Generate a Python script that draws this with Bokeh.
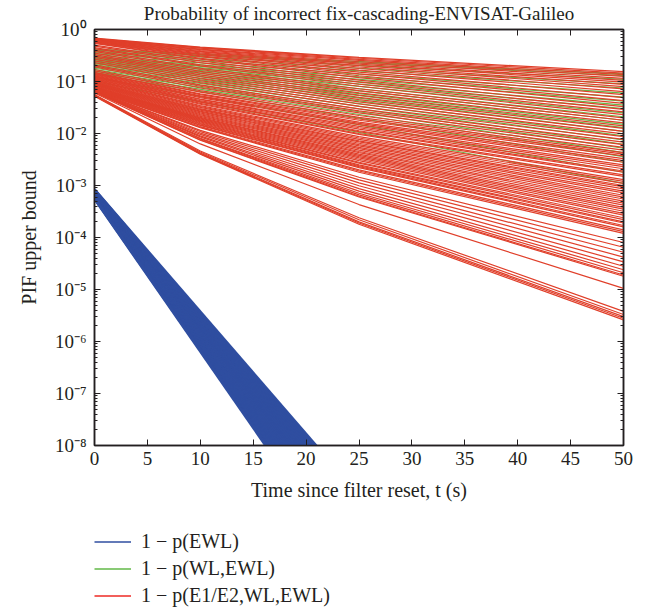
from bokeh.plotting import figure
from bokeh.layouts import column
from bokeh.models import (LinearAxis, LogAxis, Range1d, FixedTicker, CustomJSTickFormatter,
                          CustomLabelingPolicy, Legend, LegendItem)
from bokeh.embed import file_html
from bokeh.resources import INLINE

# ---------------- data ----------------
title_text = "Probability of incorrect fix-cascading-ENVISAT-Galileo"
x_ticks = [0, 5, 10, 15, 20, 25, 30, 35, 40, 45, 50]
y_exponents = [-8, -7, -6, -5, -4, -3, -2, -1, 0]
legend_labels = ["1 \u2212 p(EWL)", "1 \u2212 p(WL,EWL)", "1 \u2212 p(E1/E2,WL,EWL)"]

# 1 - p(EWL): values at t = 0 and t = 25 s
blue_t = [0, 25]
blue_t0 = [8.3e-4, 8.2e-4, 8.0e-4, 7.9e-4, 7.7e-4, 7.6e-4, 7.4e-4, 7.3e-4, 7.2e-4, 7.0e-4,
           6.9e-4, 6.8e-4, 6.7e-4, 6.6e-4, 6.5e-4, 6.4e-4, 6.3e-4, 6.2e-4, 6.1e-4, 6.0e-4,
           5.9e-4, 5.8e-4, 5.7e-4, 5.6e-4]
blue_t25 = [1.1e-9, 9.2e-10, 7.8e-10, 6.6e-10, 5.6e-10, 4.7e-10, 4.0e-10, 3.4e-10, 2.9e-10, 2.4e-10,
            2.0e-10, 1.7e-10, 1.45e-10, 1.2e-10, 1.0e-10, 8.7e-11, 7.4e-11, 6.2e-11, 5.3e-11, 4.5e-11,
            3.8e-11, 3.2e-11, 2.9e-11, 2.6e-11]

# 1 - p(WL,EWL): values at t = 0 and t = 50 s
green_t = [0, 50]
green_t0 = [0.42, 0.40, 0.38, 0.36, 0.34, 0.32, 0.30, 0.29, 0.28, 0.27,
            0.26, 0.25, 0.24, 0.23, 0.22, 0.21, 0.20, 0.19, 0.18, 0.17,
            0.16, 0.15, 0.14, 0.12, 0.10]
green_t50 = [0.14, 0.13, 0.11, 0.09, 0.075, 0.06, 0.05, 0.042, 0.035, 0.03,
             0.025, 0.021, 0.018, 0.015, 0.013, 0.011, 0.009, 0.0075, 0.0062, 0.0052,
             0.0043, 0.0036, 0.0028, 0.0018, 0.0011]

# 1 - p(E1/E2,WL,EWL): values at t = 0, 10, 25 and 50 s
red_t = [0, 10, 25, 50]
red_t0 = [0.68, 0.67, 0.66, 0.65, 0.64, 0.63, 0.62, 0.61, 0.60, 0.59, 0.58, 0.57, 0.56, 0.55, 0.54,
          0.50, 0.48, 0.45, 0.43, 0.40, 0.38, 0.35, 0.33, 0.31, 0.29, 0.27, 0.25, 0.23, 0.21,
          0.20, 0.19, 0.17, 0.16,
          0.150, 0.146, 0.142, 0.138, 0.134, 0.130, 0.127, 0.124, 0.121, 0.118,
          0.115, 0.112, 0.109, 0.106, 0.103, 0.100, 0.098, 0.096, 0.094, 0.092,
          0.090, 0.088, 0.086, 0.084, 0.082, 0.080, 0.079, 0.078, 0.077, 0.076,
          0.075, 0.074, 0.073, 0.072, 0.071, 0.070, 0.069, 0.068, 0.067, 0.067,
          0.066, 0.066, 0.065, 0.065, 0.064, 0.064, 0.063, 0.063, 0.062, 0.062,
          0.060,
          0.056, 0.055, 0.054, 0.053, 0.052]
red_t10 = [0.46, 0.45, 0.44, 0.42, 0.41, 0.395, 0.38, 0.37, 0.355, 0.34, 0.33, 0.31, 0.30, 0.28, 0.27,
           0.25, 0.23, 0.21, 0.20, 0.18, 0.17, 0.157, 0.145, 0.134, 0.124, 0.114, 0.104, 0.095, 0.086,
           0.081, 0.075, 0.067, 0.0625,
           0.058, 0.056, 0.053, 0.051, 0.049, 0.046, 0.045, 0.043, 0.041, 0.040,
           0.038, 0.0365, 0.0344, 0.0331, 0.0317, 0.0302, 0.0292, 0.0282, 0.0270, 0.0261,
           0.0250, 0.0240, 0.0231, 0.0222, 0.0213, 0.0204, 0.0198, 0.0191, 0.0185, 0.0179,
           0.0173, 0.0167, 0.0161, 0.0156, 0.0152, 0.0146, 0.0143, 0.0136, 0.0132, 0.0129,
           0.0115, 0.0109, 0.0102, 0.0096, 0.0090, 0.0086, 0.0081, 0.0079, 0.0076, 0.0074,
           0.0063,
           0.0046, 0.0044, 0.0042, 0.0041, 0.0040]
red_t25 = [0.29, 0.28, 0.267, 0.254, 0.240, 0.227, 0.215, 0.202, 0.190, 0.178, 0.165, 0.152, 0.140,
           0.129, 0.119,
           0.106, 0.097, 0.0885, 0.081, 0.0726, 0.0668, 0.0603, 0.0545, 0.0497, 0.0449, 0.0407,
           0.0369, 0.0332, 0.0297, 0.0273, 0.0250, 0.0222, 0.0204,
           0.0190, 0.0180, 0.0166, 0.0156, 0.0148, 0.0137, 0.0129, 0.0121, 0.0113, 0.0109,
           0.0100, 0.0096, 0.0087, 0.0082, 0.0077, 0.0072, 0.0069, 0.0065, 0.0061, 0.0058,
           0.0054, 0.0051, 0.0048, 0.0045, 0.0043, 0.0040, 0.0038, 0.0036, 0.0034, 0.0032,
           0.0030, 0.0028, 0.0027, 0.0025, 0.0024, 0.0023, 0.0022, 0.0020, 0.0019, 0.0018,
           0.00144, 0.00128, 0.00112, 0.00099, 0.00087, 0.00078, 0.00071, 0.00066, 0.00062, 0.00060,
           0.00043,
           0.00024, 0.00022, 0.00020, 0.00019, 0.00018]
red_t50 = [0.155, 0.145, 0.135, 0.125, 0.115, 0.105, 0.097, 0.088, 0.080, 0.072, 0.064, 0.056, 0.049,
           0.043, 0.038,
           0.033, 0.029, 0.026, 0.023, 0.020, 0.018, 0.016, 0.014, 0.0125, 0.011, 0.0098, 0.0087,
           0.0077, 0.0068, 0.0061, 0.0054, 0.0048, 0.0043,
           0.0040, 0.0037, 0.0033, 0.0030, 0.0028, 0.0025, 0.0023, 0.0021, 0.0019, 0.0018,
           0.0016, 0.0015, 0.0013, 0.0012, 0.0011, 0.0010, 0.00094, 0.00086, 0.00078, 0.00072,
           0.00065, 0.00060, 0.00055, 0.00050, 0.00046, 0.00042, 0.00038, 0.00035, 0.00032, 0.00029,
           0.00027, 0.00024, 0.00022, 0.00020, 0.00019, 0.00017, 0.00016, 0.00014, 0.00013, 0.00012,
           8.0e-5, 6.5e-5, 5.2e-5, 4.2e-5, 3.4e-5, 2.8e-5, 2.4e-5, 2.1e-5, 1.9e-5, 1.8e-5,
           1.05e-5,
           3.8e-6, 3.3e-6, 3.0e-6, 2.8e-6, 2.6e-6]

# ---------------- styling ----------------
FONT = "Liberation Serif"
INK = "#231F20"
BLUE = "#2F4EA0"
GREEN = "#62B947"
RED_LINES = "#E03F2A"
RED_KEY = "#EE2A24"
NAN = float("nan")

p = figure(frame_width=529, frame_height=416, y_axis_type="log",
           x_range=Range1d(0, 50), y_range=Range1d(1e-8, 1),
           output_backend="svg", toolbar_location=None,
           min_border_left=94, min_border_right=8, min_border_top=23, min_border_bottom=0,
           title=title_text)
p.title.align = "center"
p.title.text_font = FONT
p.title.text_font_style = "normal"
p.title.text_font_size = "19px"
p.title.text_color = INK
p.title.standoff = 0
p.grid.visible = False
p.outline_line_color = INK
p.outline_line_width = 1.5
p.background_fill_color = "white"
p.border_fill_color = "white"

# lines
bxs = [blue_t for _ in blue_t0]
bys = [[a, b] for a, b in zip(blue_t0, blue_t25)]
p.multi_line(bxs, bys, line_color=BLUE, line_width=3)

gxs = [green_t for _ in green_t0]
gys = [[a, b] for a, b in zip(green_t0, green_t50)]
p.multi_line(gxs, gys, line_color=GREEN, line_width=1.2)

rxs = [red_t for _ in red_t0]
rys = [[a, b, c, d] for a, b, c, d in zip(red_t0, red_t10, red_t25, red_t50)]
p.multi_line(rxs, rys, line_color=RED_LINES, line_width=1.2)

# axes
y_major = [10.0 ** e for e in y_exponents]
y_minor = [m * 10.0 ** e for e in y_exponents[:-1] for m in range(2, 10)]
yticker = FixedTicker(ticks=y_major, minor_ticks=y_minor)
xticker = FixedTicker(ticks=x_ticks)
yfmt = CustomJSTickFormatter(code="""
const sup = {'0':'\u2070','1':'\u00b9','2':'\u00b2','3':'\u00b3','4':'\u2074','5':'\u2075',
             '6':'\u2076','7':'\u2077','8':'\u2078','9':'\u2079','-':'\u207b'};
const e = String(Math.round(Math.log10(tick)));
return '10' + e.split('').map(c => sup[c]).join('');
""")
no_labels = CustomLabelingPolicy(code="""
const ids = [...indices];
for (const i of ids) indices.unset(i);
return indices;
""")

xa = p.xaxis[0]
xa.ticker = xticker
xa.axis_label = "Time since filter reset, t (s)"
ya = p.yaxis[0]
ya.ticker = yticker
ya.formatter = yfmt
ya.axis_label = "PIF upper bound"

for ax in (xa, ya):
    ax.axis_line_color = INK
    ax.axis_line_width = 1.5
    ax.major_tick_line_color = INK
    ax.minor_tick_line_color = INK
    ax.major_tick_in = 6
    ax.major_tick_out = 0
    ax.major_label_text_font = FONT
    ax.major_label_text_font_size = "19px"
    ax.major_label_text_color = INK
    ax.axis_label_text_font = FONT
    ax.axis_label_text_font_size = "20px"
    ax.axis_label_text_font_style = "normal"
    ax.axis_label_text_color = INK
xa.minor_tick_in = 0
xa.minor_tick_out = 0
ya.minor_tick_in = 3
ya.minor_tick_out = 0
xa.major_label_standoff = 6
xa.axis_label_standoff = 11
ya.major_label_standoff = 8
ya.axis_label_standoff = 12

top = LinearAxis(ticker=xticker, major_tick_in=6, major_tick_out=0, minor_tick_in=0, minor_tick_out=0,
                 major_label_text_font_size="4px", major_label_standoff=0,
                 major_label_policy=no_labels,
                 axis_line_color=INK, axis_line_width=1.5, major_tick_line_color=INK)
right = LogAxis(ticker=yticker, formatter=yfmt, major_tick_in=6, major_tick_out=0, minor_tick_in=3,
                minor_tick_out=0, major_label_text_font_size="4px", major_label_standoff=0,
                major_label_policy=no_labels,
                axis_line_color=INK, axis_line_width=1.5, major_tick_line_color=INK,
                minor_tick_line_color=INK)
p.add_layout(top, "above")
p.add_layout(right, "right")

# legend strip below the chart (key glyphs only; their single point is NaN, so nothing is plotted)
leg = figure(frame_width=529, frame_height=77, x_range=Range1d(0, 1), y_range=Range1d(0, 1),
             output_backend="svg", toolbar_location=None,
             x_axis_location=None, y_axis_location=None,
             min_border_left=94, min_border_right=8, min_border_top=27, min_border_bottom=0)
leg.grid.visible = False
leg.outline_line_color = None
lb = leg.line(x=[NAN], y=[NAN], line_color=BLUE, line_width=1.5)
lg = leg.line(x=[NAN], y=[NAN], line_color=GREEN, line_width=1.5)
lr = leg.line(x=[NAN], y=[NAN], line_color=RED_KEY, line_width=1.5)
legend = Legend(items=[LegendItem(label=legend_labels[0], renderers=[lb]),
                       LegendItem(label=legend_labels[1], renderers=[lg]),
                       LegendItem(label=legend_labels[2], renderers=[lr])],
                location="top_left", orientation="vertical",
                border_line_color=None, background_fill_alpha=0,
                padding=0, margin=0, spacing=4, label_height=23, glyph_height=23,
                glyph_width=37, label_standoff=10,
                label_text_font=FONT, label_text_font_size="20px", label_text_color=INK)
leg.add_layout(legend)

open("out.html", "w").write(file_html(column(p, leg, spacing=0), INLINE))
